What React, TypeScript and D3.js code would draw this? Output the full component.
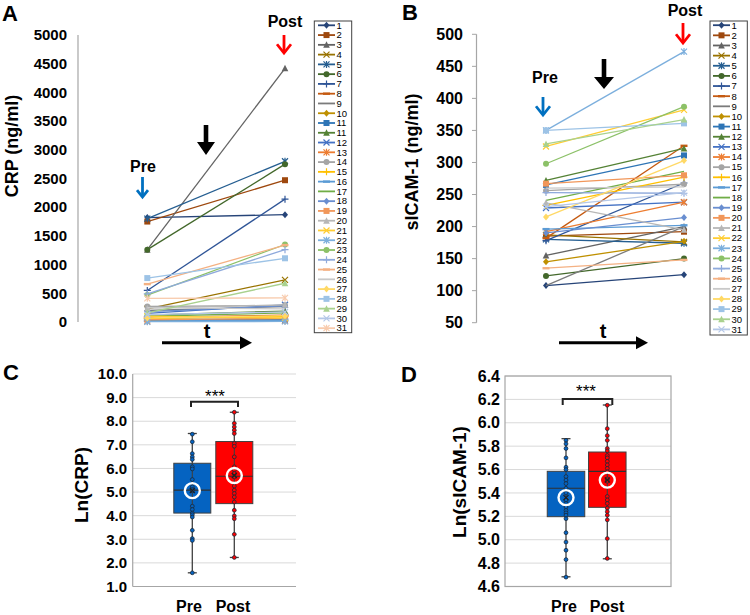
import React from 'react';
import * as d3 from 'd3';

const FONT = "'Liberation Sans', Arial, Helvetica, sans-serif";

// ---------- DATA ----------
const timeCats = ['Pre', 'Post'];

// Panel A: CRP (ng/ml) per subject
const crpLabels = ['1','2','3','4','5','6','7','8','9','10','11','11','12','13','14','15','16','17','18','19','20','21','22','23','24','25','26','27','28','29','30','31'];
const crpPre  = [1820, 1750, 1260, 230, 1800, 1260, 550, 80, 200, 30, 50, 120, 150, 10, 270, 60, 20, 100, 180, 40, 240, 100, 5, 470, 490, 660, 250, 70, 765, 160, 130, 412];
const crpPost = [1870, 2470, 4420, 735, 2800, 2750, 2140, 120, 270, 60, 40, 190, 300, 20, 290, 95, 30, 160, 280, 60, 300, 70, 10, 1350, 1260, 1340, 230, 110, 1110, 675, 175, 420];
const crpTicks = [0, 500, 1000, 1500, 2000, 2500, 3000, 3500, 4000, 4500, 5000];

// Panel B: sICAM-1 (ng/ml) per subject
const icamLabels = ['1','2','3','4','5','6','7','8','9','10','11','12','13','14','15','16','17','18','19','20','21','22','23','24','25','26','27','28','29','30','31'];
const icamPre  = [108, 185, 155, 187, 180, 123, 178, 182, 108, 145, 265, 272, 229, 192, 256, 233, 196, 241, 190, 267, 237, 325, 350, 298, 253, 135, 260, 215, 350, 329, 231];
const icamPost = [125, 192, 200, 176, 174, 150, 268, 326, 200, 177, 311, 322, 238, 238, 266, 277, 202, 286, 214, 280, 195, 382, 473, 387, 252, 148, 262, 303, 361, 367, 253];
const icamTicks = [50, 100, 150, 200, 250, 300, 350, 400, 450, 500];

// Panel C: Ln(CRP) box plot
const lnCrpMin    = [1.58, 2.23];
const lnCrpQ1     = [4.11, 4.51];
const lnCrpMedian = [5.08, 5.67];
const lnCrpQ3     = [6.22, 7.14];
const lnCrpMax    = [7.48, 8.38];
const lnCrpMean   = [5.06, 5.70];
const lnCrpPrePts  = [7.45, 7.13, 6.63, 6.49, 6.38, 6.07, 5.98, 5.53, 5.22, 5.11, 5.05, 4.40, 4.26, 4.11, 4.04, 3.94, 3.38, 3.03, 2.95, 1.58];
const lnCrpPostPts = [8.38, 7.91, 7.76, 7.62, 7.48, 7.06, 6.94, 6.49, 6.07, 5.93, 5.79, 5.64, 5.25, 5.08, 4.94, 4.79, 4.58, 4.23, 3.99, 3.87, 3.21, 2.23];
const lnCrpTicks = [1, 2, 3, 4, 5, 6, 7, 8, 9, 10];

// Panel D: Ln(sICAM-1) box plot
const lnIcamMin    = [4.683, 4.837];
const lnIcamQ1     = [5.197, 5.277];
const lnIcamMedian = [5.44, 5.585];
const lnIcamQ3     = [5.585, 5.75];
const lnIcamMax    = [5.864, 6.152];
const lnIcamMean   = [5.36, 5.51];
const lnIcamPrePts  = [5.85, 5.82, 5.78, 5.70, 5.62, 5.60, 5.54, 5.51, 5.48, 5.44, 5.40, 5.34, 5.31, 5.28, 5.25, 5.23, 5.21, 5.18, 5.06, 4.98, 4.91, 4.83, 4.68];
const lnIcamPostPts = [6.15, 5.95, 5.89, 5.85, 5.78, 5.76, 5.72, 5.70, 5.67, 5.64, 5.61, 5.58, 5.52, 5.50, 5.37, 5.34, 5.31, 5.27, 5.24, 5.21, 5.17, 5.01, 4.84];
const lnIcamTicks = [4.6, 4.8, 5.0, 5.2, 5.4, 5.6, 5.8, 6.0, 6.2, 6.4];

// ---------- STYLES ----------
const seriesColors = [
  '#264478', '#9E480E', '#636363', '#997300', '#255E91', '#43682B',
  '#2F5597', '#C55A11', '#7B7B7B', '#BF9000', '#2E75B6', '#548235',
  '#4472C4', '#ED7D31', '#A5A5A5', '#FFC000', '#5B9BD5', '#70AD47',
  '#698ED0', '#F1975A', '#B7B7B7', '#FFCD33', '#7CAFDD', '#8CC168',
  '#8FAADC', '#F4B183', '#C9C9C9', '#FFD966', '#9DC3E6', '#A9D18E',
  '#B4C7E7', '#F8CBAD',
];
const markerCycle = ['diamond', 'square', 'triangle', 'x', 'star', 'circle', 'plus', 'dash', 'none'];

function Marker({ shape, x, y, color }: { shape: string; x: number; y: number; color: string }) {
  const s = 3;
  switch (shape) {
    case 'diamond':
      return <path d={`M${x},${y - s - 0.5}L${x + s},${y}L${x},${y + s + 0.5}L${x - s},${y}Z`} fill={color} />;
    case 'square':
      return <rect x={x - s} y={y - s} width={2 * s} height={2 * s} fill={color} />;
    case 'triangle':
      return <path d={`M${x},${y - s - 0.5}L${x + s + 0.3},${y + s}L${x - s - 0.3},${y + s}Z`} fill={color} />;
    case 'x':
      return (
        <path d={`M${x - s},${y - s}L${x + s},${y + s}M${x - s},${y + s}L${x + s},${y - s}`} stroke={color} strokeWidth={1.2} fill="none" />
      );
    case 'star':
      return (
        <path d={`M${x - s},${y - s}L${x + s},${y + s}M${x - s},${y + s}L${x + s},${y - s}M${x},${y - s - 0.5}L${x},${y + s + 0.5}`} stroke={color} strokeWidth={1.2} fill="none" />
      );
    case 'circle':
      return <circle cx={x} cy={y} r={s} fill={color} />;
    case 'plus':
      return (
        <path d={`M${x - s - 0.5},${y}L${x + s + 0.5},${y}M${x},${y - s - 0.5}L${x},${y + s + 0.5}`} stroke={color} strokeWidth={1.2} fill="none" />
      );
    case 'dash':
      return <path d={`M${x - 3.5},${y}L${x + 3.5},${y}`} stroke={color} strokeWidth={2.4} fill="none" />;
    default:
      return null;
  }
}

function ChevronArrow({ cx, top, bottom, hw, color }: { cx: number; top: number; bottom: number; hw: number; color: string }) {
  return (
    <g stroke={color} strokeWidth={2.8} fill="none" strokeLinecap="butt">
      <line x1={cx} y1={top} x2={cx} y2={bottom - 1} />
      <polyline points={`${cx - hw},${bottom - hw * 1.25} ${cx},${bottom} ${cx + hw},${bottom - hw * 1.25}`} />
    </g>
  );
}

function BlockArrow({ cx, top, headY, tip, shaftHw, headHw }: any) {
  return (
    <path
      d={`M${cx - shaftHw},${top}L${cx + shaftHw},${top}L${cx + shaftHw},${headY}L${cx + headHw},${headY}L${cx},${tip}L${cx - headHw},${headY}L${cx - shaftHw},${headY}Z`}
      fill="#000"
    />
  );
}

function TimeArrow({ x1, x2, y }: { x1: number; x2: number; y: number }) {
  return (
    <g>
      <line x1={x1} y1={y} x2={x2 - 11} y2={y} stroke="#000" strokeWidth={3} />
      <path d={`M${x2 - 12},${y - 6.5}L${x2},${y}L${x2 - 12},${y + 6.5}Z`} fill="#000" />
    </g>
  );
}

function LinePanel(props: any) {
  const { xRange, yScale, labels, pre, post, legend } = props;
  const x = d3.scalePoint<string>().domain(timeCats).range(xRange);
  const line = d3.line<[string, number]>().x((d) => x(d[0]) as number).y((d) => yScale(d[1]));
  return (
    <g>
      {labels.map((lab: string, i: number) => {
        const pts: [string, number][] = [[timeCats[0], pre[i]], [timeCats[1], post[i]]];
        const color = seriesColors[i];
        const shape = markerCycle[i % markerCycle.length];
        return (
          <g key={i}>
            <path d={line(pts) as string} stroke={color} strokeWidth={1.3} fill="none" />
            {pts.map((p, j) => (
              <Marker key={j} shape={shape} x={x(p[0]) as number} y={yScale(p[1])} color={color} />
            ))}
          </g>
        );
      })}
      {/* legend */}
      <rect x={legend.x} y={legend.y} width={legend.w} height={legend.h} fill="#fff" stroke="#404040" strokeWidth={1} />
      {labels.map((lab: string, i: number) => {
        const yy = legend.y0 + i * legend.step;
        const color = seriesColors[i];
        const shape = markerCycle[i % markerCycle.length];
        return (
          <g key={'l' + i}>
            <line x1={legend.lx1} x2={legend.lx2} y1={yy} y2={yy} stroke={color} strokeWidth={1.8} />
            <Marker shape={shape} x={(legend.lx1 + legend.lx2) / 2} y={yy} color={color} />
            <text x={legend.lx2 + 1.5} y={yy} dy="0.35em" fontSize={9.5} fontFamily={FONT} fill="#000">
              {lab}
            </text>
          </g>
        );
      })}
    </g>
  );
}

function BoxPanel(props: any) {
  const { centers, yScale, mins, q1s, meds, q3s, maxs, means, pointSets, fills, boxW } = props;
  const x = d3.scalePoint<string>().domain(timeCats).range(centers);
  return (
    <g>
      {timeCats.map((c, i) => {
        const cx = x(c) as number;
        return (
          <g key={c}>
            <line x1={cx} x2={cx} y1={yScale(maxs[i])} y2={yScale(mins[i])} stroke="#404040" strokeWidth={1.3} />
            <line x1={cx - 4.5} x2={cx + 4.5} y1={yScale(maxs[i])} y2={yScale(maxs[i])} stroke="#404040" strokeWidth={1.3} />
            <line x1={cx - 4.5} x2={cx + 4.5} y1={yScale(mins[i])} y2={yScale(mins[i])} stroke="#404040" strokeWidth={1.3} />
            <rect x={cx - boxW / 2} y={yScale(q3s[i])} width={boxW} height={yScale(q1s[i]) - yScale(q3s[i])} fill={fills[i]} stroke="#404040" strokeWidth={1} />
            <line x1={cx - boxW / 2} x2={cx + boxW / 2} y1={yScale(meds[i])} y2={yScale(meds[i])} stroke="#303030" strokeWidth={1.2} />
            <line x1={cx} x2={cx} y1={yScale(q3s[i])} y2={yScale(q1s[i])} stroke="#404040" strokeWidth={1.1} />
            {pointSets[i].map((v: number, k: number) => (
              <circle key={k} cx={cx} cy={yScale(v)} r={1.9} fill={fills[i]} stroke="#1a2a3a" strokeWidth={0.8} />
            ))}
            <circle cx={cx} cy={yScale(means[i])} r={7.5} fill="none" stroke="#fff" strokeWidth={2.4} />
            <path
              d={`M${cx - 2.5},${yScale(means[i]) - 2.5}L${cx + 2.5},${yScale(means[i]) + 2.5}M${cx - 2.5},${yScale(means[i]) + 2.5}L${cx + 2.5},${yScale(means[i]) - 2.5}`}
              stroke="#202020"
              strokeWidth={1.3}
            />
          </g>
        );
      })}
    </g>
  );
}

export default function App() {
  const yA = d3.scaleLinear().domain([0, 5000]).range([322, 35]);
  const yB = d3.scaleLinear().domain([50, 500]).range([322.7, 34.3]);
  const yC = d3.scaleLinear().domain([1, 10]).range([586.5, 374]);
  const yD = d3.scaleLinear().domain([4.6, 6.4]).range([586.5, 376]);

  const preBlue = '#0563C1';
  const postRed = '#FF0000';

  return (
    <div style={{ position: 'fixed', left: 0, top: 0, width: 750, height: 615, background: '#fff' }}>
      <svg width={750} height={615} viewBox="0 0 750 615" style={{ display: 'block', background: '#fff' }}>
        {/* ============ Panel A ============ */}
        <text x={2} y={21} fontSize={22} fontWeight="bold" fontFamily={FONT}>A</text>
        <line x1={78} x2={78} y1={yA(5000)} y2={yA(0)} stroke="#A6A6A6" strokeWidth={1.2} />
        {crpTicks.map((t) => (
          <text key={t} x={67} y={yA(t)} dy="0.35em" textAnchor="end" fontSize={15} fontWeight="bold" fontFamily={FONT}>
            {t}
          </text>
        ))}
        <text transform={`translate(18,146) rotate(-90)`} textAnchor="middle" fontSize={18} fontWeight="bold" fontFamily={FONT}>
          CRP (ng/ml)
        </text>
        <LinePanel
          xRange={[147.3, 285]}
          yScale={yA}
          labels={crpLabels}
          pre={crpPre}
          post={crpPost}
          legend={{ x: 314.3, y: 21, w: 37.4, h: 311.7, y0: 25.3, step: 9.77, lx1: 318, lx2: 335 }}
        />
        <text x={143} y={172} textAnchor="middle" fontSize={16} fontWeight="bold" fontFamily={FONT}>Pre</text>
        <ChevronArrow cx={142.5} top={177} bottom={197} hw={5.5} color="#0070C0" />
        <BlockArrow cx={206} top={125} headY={142} tip={155} shaftHw={2.3} headHw={9} />
        <text x={285} y={27} textAnchor="middle" fontSize={16} fontWeight="bold" fontFamily={FONT}>Post</text>
        <ChevronArrow cx={284} top={35} bottom={53} hw={7} color="#FF0000" />
        <text x={207} y={338} textAnchor="middle" fontSize={20} fontWeight="bold" fontFamily={FONT}>t</text>
        <TimeArrow x1={162} x2={252} y={342.7} />

        {/* ============ Panel B ============ */}
        <text x={402} y={20} fontSize={22} fontWeight="bold" fontFamily={FONT}>B</text>
        <line x1={476.5} x2={476.5} y1={yB(500)} y2={yB(50)} stroke="#A6A6A6" strokeWidth={1.2} />
        {icamTicks.map((t) => (
          <g key={t}>
            <line x1={472} x2={476.5} y1={yB(t)} y2={yB(t)} stroke="#A6A6A6" strokeWidth={1} />
            <text x={463} y={yB(t)} dy="0.35em" textAnchor="end" fontSize={16} fontWeight="bold" fontFamily={FONT}>
              {t}
            </text>
          </g>
        ))}
        <text transform={`translate(418,162) rotate(-90)`} textAnchor="middle" fontSize={18} fontWeight="bold" fontFamily={FONT}>
          sICAM-1 (ng/ml)
        </text>
        <LinePanel
          xRange={[546, 684]}
          yScale={yB}
          labels={icamLabels}
          pre={icamPre}
          post={icamPost}
          legend={{ x: 710, y: 21, w: 37.3, h: 314, y0: 25.2, step: 10.14, lx1: 713, lx2: 730 }}
        />
        <text x={545} y={83} textAnchor="middle" fontSize={16} fontWeight="bold" fontFamily={FONT}>Pre</text>
        <ChevronArrow cx={543} top={97} bottom={115} hw={7} color="#0070C0" />
        <BlockArrow cx={604} top={59} headY={77} tip={89} shaftHw={2.3} headHw={10} />
        <text x={685} y={16} textAnchor="middle" fontSize={16} fontWeight="bold" fontFamily={FONT}>Post</text>
        <ChevronArrow cx={683} top={23} bottom={43} hw={7} color="#FF0000" />
        <text x={603} y={338} textAnchor="middle" fontSize={20} fontWeight="bold" fontFamily={FONT}>t</text>
        <TimeArrow x1={559} x2={648} y={342.7} />

        {/* ============ Panel C ============ */}
        <text x={3} y={380} fontSize={22} fontWeight="bold" fontFamily={FONT}>C</text>
        {lnCrpTicks.map((t) => (
          <g key={t}>
            {t > 1 && <line x1={132.7} x2={296} y1={yC(t)} y2={yC(t)} stroke="#D9D9D9" strokeWidth={1} />}
            <text x={127} y={yC(t)} dy="0.35em" textAnchor="end" fontSize={15} fontWeight="bold" fontFamily={FONT}>
              {t.toFixed(1)}
            </text>
          </g>
        ))}
        <line x1={132.7} x2={132.7} y1={yC(10)} y2={yC(1)} stroke="#A6A6A6" strokeWidth={1.2} />
        <line x1={132.7} x2={296} y1={yC(1)} y2={yC(1)} stroke="#A6A6A6" strokeWidth={1.2} />
        <text transform={`translate(88,485) rotate(-90)`} textAnchor="middle" fontSize={19} fontWeight="bold" fontFamily={FONT}>
          Ln(CRP)
        </text>
        <BoxPanel
          centers={[192.3, 234.3]}
          yScale={yC}
          mins={lnCrpMin}
          q1s={lnCrpQ1}
          meds={lnCrpMedian}
          q3s={lnCrpQ3}
          maxs={lnCrpMax}
          means={lnCrpMean}
          pointSets={[lnCrpPrePts, lnCrpPostPts]}
          fills={[preBlue, postRed]}
          boxW={37}
        />
        <path d="M191,407V401.7H238V407" stroke="#222" strokeWidth={2} fill="none" />
        <text x={215} y={402} textAnchor="middle" fontSize={17} fontFamily={FONT}>***</text>
        <text x={189} y={612} textAnchor="middle" fontSize={16} fontWeight="bold" fontFamily={FONT}>Pre</text>
        <text x={233} y={612} textAnchor="middle" fontSize={16} fontWeight="bold" fontFamily={FONT}>Post</text>

        {/* ============ Panel D ============ */}
        <text x={401} y={382} fontSize={22} fontWeight="bold" fontFamily={FONT}>D</text>
        {lnIcamTicks.map((t) => (
          <g key={t}>
            <line x1={505} x2={671} y1={yD(t)} y2={yD(t)} stroke="#D9D9D9" strokeWidth={1} />
            <text x={500} y={yD(t)} dy="0.35em" textAnchor="end" fontSize={16} fontWeight="bold" fontFamily={FONT}>
              {t.toFixed(1)}
            </text>
          </g>
        ))}
        <rect x={505} y={yD(6.4)} width={166} height={yD(4.6) - yD(6.4)} fill="none" stroke="#A6A6A6" strokeWidth={1.2} />
        <text transform={`translate(466,482) rotate(-90)`} textAnchor="middle" fontSize={19} fontWeight="bold" fontFamily={FONT}>
          Ln(sICAM-1)
        </text>
        <BoxPanel
          centers={[566, 607.3]}
          yScale={yD}
          mins={lnIcamMin}
          q1s={lnIcamQ1}
          meds={lnIcamMedian}
          q3s={lnIcamQ3}
          maxs={lnIcamMax}
          means={lnIcamMean}
          pointSets={[lnIcamPrePts, lnIcamPostPts]}
          fills={[preBlue, postRed]}
          boxW={37.5}
        />
        <path d="M562.7,405V399H612.3V405" stroke="#222" strokeWidth={2} fill="none" />
        <text x={586} y={397} textAnchor="middle" fontSize={17} fontFamily={FONT}>***</text>
        <text x={564} y={612} textAnchor="middle" fontSize={16} fontWeight="bold" fontFamily={FONT}>Pre</text>
        <text x={607} y={612} textAnchor="middle" fontSize={16} fontWeight="bold" fontFamily={FONT}>Post</text>
      </svg>
    </div>
  );
}
